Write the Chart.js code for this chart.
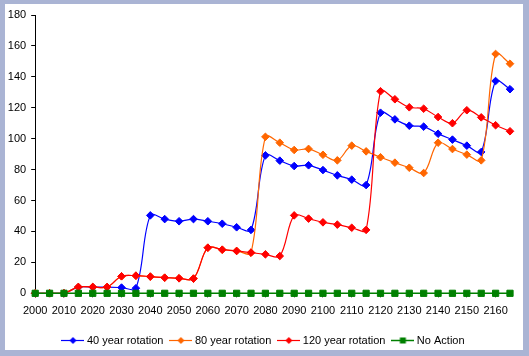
<!DOCTYPE html>
<html>
<head>
<meta charset="utf-8">
<script src="https://cdn.jsdelivr.net/npm/chart.js@4"></script>
<style>
html, body { margin: 0; padding: 0; background: #aab4d4; }
canvas { display: block; }
</style>
</head>
<body>
<canvas id="c" width="529" height="356"></canvas>
<script>
const years = ['2000','2005','2010','2015','2020','2025','2030','2035','2040','2045',
  '2050','2055','2060','2065','2070','2075','2080','2085','2090','2095',
  '2100','2105','2110','2115','2120','2125','2130','2135','2140','2145',
  '2150','2155','2160','2165'];

const rotation40 = [0, 0, 0, 4, 4, 4, 3.7, 3.3, 50.4, 48,
  46.6, 48, 46.6, 45, 42.7, 41, 89.2, 85.8, 82.3, 82.8,
  79.7, 76.3, 73.5, 70, 116.8, 112.5, 108.4, 107.8, 103.2, 99.4,
  95.5, 91.4, 137.3, 132];

const rotation80 = [0, 0, 0, 4.1, 4.1, 4.1, 11, 11.4, 10.8, 10.1,
  9.7, 9.5, 29.5, 28.2, 27.4, 26.3, 101.2, 97.4, 92.7, 93.4,
  89.6, 86, 95.5, 91.8, 88, 84.5, 81.2, 77.8, 97.4, 93.3,
  89.7, 86, 154.8, 148.5];

const rotation120 = [0, 0, 0, 4.1, 4.1, 4.1, 11, 11.4, 10.8, 10.1,
  9.7, 9.5, 29.5, 28.2, 27.4, 26.3, 25.2, 24.1, 50.4, 48.3,
  45.9, 44.4, 42.4, 41, 130.7, 125.5, 120.3, 119.4, 114, 110,
  118.4, 113.8, 108.7, 104.8];

const noAction = [0, 0, 0, 0, 0, 0, 0, 0, 0, 0,
  0, 0, 0, 0, 0, 0, 0, 0, 0, 0,
  0, 0, 0, 0, 0, 0, 0, 0, 0, 0,
  0, 0, 0, 0];

const seriesNames = ['40 year rotation', '80 year rotation', '120 year rotation', 'No Action'];
const yTickValues = [0, 20, 40, 60, 80, 100, 120, 140, 160, 180];

const FONT = "'Liberation Sans', Arial, sans-serif";
Chart.defaults.color = '#000';
Chart.defaults.font.family = FONT;
Chart.defaults.font.size = 11;

function legendImage(color, shape, lw) {
  const c = document.createElement('canvas');
  c.width = 23; c.height = 9;
  const g = c.getContext('2d');
  g.strokeStyle = color; g.lineWidth = lw;
  g.beginPath(); g.moveTo(0, 4.5); g.lineTo(23, 4.5); g.stroke();
  g.fillStyle = color;
  if (shape === 'diamond') {
    g.beginPath();
    g.moveTo(11.5, 1); g.lineTo(15, 4.5); g.lineTo(11.5, 8); g.lineTo(8, 4.5);
    g.closePath(); g.fill();
  } else {
    g.fillRect(8.5, 1.5, 6, 6);
  }
  return c;
}

const legendImgs = [
  legendImage('#0000ff', 'diamond', 1.2),
  legendImage('#ff6600', 'diamond', 1.2),
  legendImage('#ff0000', 'diamond', 1.2),
  legendImage('#008000', 'square', 1.5)
];

const bgPlugin = {
  id: 'bg',
  beforeDraw(chart) {
    const ctx = chart.ctx;
    ctx.save();
    ctx.fillStyle = '#aab4d4';
    ctx.fillRect(0, 0, chart.width, chart.height);
    ctx.fillStyle = '#ffffff';
    ctx.fillRect(5, 4, 518, 346);
    ctx.restore();
  }
};

function lineDs(label, data, color, style, radius, width, order) {
  return {
    label, data,
    borderColor: color, backgroundColor: color,
    pointBackgroundColor: color, pointBorderColor: color,
    pointStyle: style, pointRadius: radius, pointHoverRadius: radius,
    pointBorderWidth: 1,
    borderWidth: width, tension: 0.35, fill: false, order,
    clip: false
  };
}

new Chart(document.getElementById('c'), {
  type: 'line',
  data: {
    labels: years,
    datasets: [
      lineDs(seriesNames[0], rotation40, '#0000ff', 'rectRot', 3.8, 1.2, 3),
      lineDs(seriesNames[1], rotation80, '#ff6600', 'rectRot', 3.8, 1.2, 2),
      lineDs(seriesNames[2], rotation120, '#ff0000', 'rectRot', 3.8, 1.2, 1),
      lineDs(seriesNames[3], noAction, '#008000', 'rect', 4.4, 1.6, 0)
    ]
  },
  options: {
    responsive: false,
    animation: false,
    devicePixelRatio: 1,
    layout: { padding: { left: 0, right: 0, top: 15, bottom: 0 } },
    plugins: {
      tooltip: { enabled: false },
      legend: {
        position: 'bottom',
        labels: {
          usePointStyle: true,
          pointStyleWidth: 17,
          boxHeight: 11,
          padding: 9,
          font: { size: 11, family: FONT },
          color: '#000',
          sort: (a, b) => a.datasetIndex - b.datasetIndex,
          generateLabels(chart) {
            const items = Chart.defaults.plugins.legend.labels.generateLabels(chart);
            items.forEach(it => { it.pointStyle = legendImgs[it.datasetIndex]; });
            return items;
          }
        }
      }
    },
    scales: {
      x: {
        type: 'category',
        offset: false,
        grid: {
          display: true, drawOnChartArea: false, tickLength: 4,
          tickColor: ctx => (ctx.index % 2 === 0 ? '#000' : 'rgba(0,0,0,0)')
        },
        border: { display: true, color: '#000', width: 1 },
        ticks: {
          autoSkip: false, maxRotation: 0, minRotation: 0, padding: 7,
          color: '#000', font: { size: 11, family: FONT },
          callback: (v, i) => (i % 2 === 0 ? years[i] : '')
        },
        afterFit: s => { s.height = 32.7; }
      },
      y: {
        type: 'linear', position: 'left',
        min: 0, max: 180,
        afterBuildTicks: s => { s.ticks = yTickValues.map(v => ({ value: v })); },
        grid: { display: true, drawOnChartArea: false, tickLength: 4, tickColor: '#000' },
        border: { display: true, color: '#000', width: 1 },
        ticks: { padding: 5, color: '#000', font: { size: 11, family: FONT } },
        afterFit: s => { s.width = 35.2; }
      },
      y2: {
        type: 'linear', position: 'right', display: true,
        grid: { display: false }, border: { display: false },
        ticks: { display: false },
        afterFit: s => { s.width = 19; }
      }
    }
  },
  plugins: [bgPlugin]
});
</script>
</body>
</html>
